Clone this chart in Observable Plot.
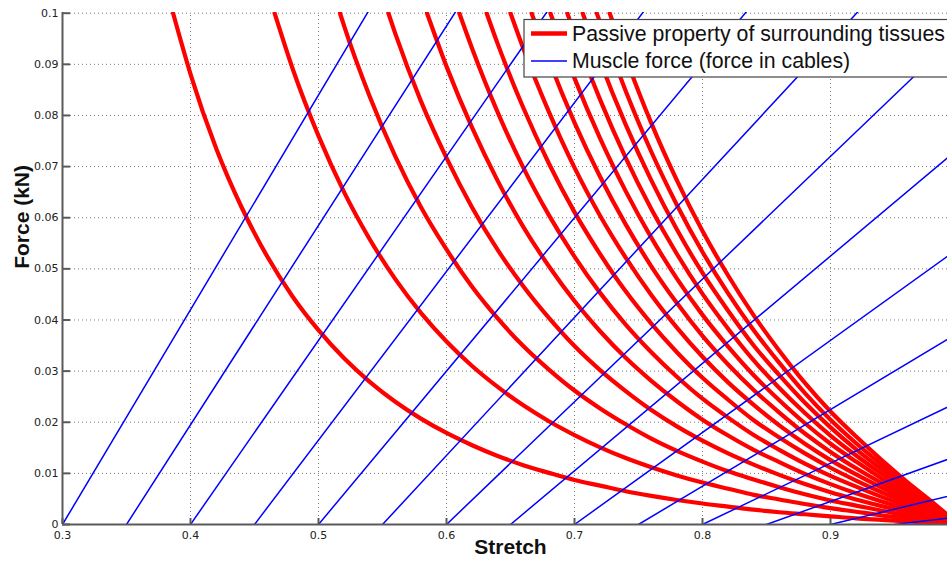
<!DOCTYPE html>
<html>
<head>
<meta charset="utf-8">
<script src="https://cdn.jsdelivr.net/npm/d3@7"></script>
<script src="https://cdn.jsdelivr.net/npm/@observablehq/plot@0.6"></script>
<style>
  html, body { margin: 0; padding: 0; background: #fff; }
  #chart { width: 947px; height: 564px; overflow: hidden; }
</style>
</head>
<body>
<div id="chart"></div>
<script>
// ---- tick values and labels ----
const stretchTicks = [0.3, 0.4, 0.5, 0.6, 0.7, 0.8, 0.9];
const stretchTickLabels = ["0.3", "0.4", "0.5", "0.6", "0.7", "0.8", "0.9"];
const forceTicks = [0, 0.01, 0.02, 0.03, 0.04, 0.05, 0.06, 0.07, 0.08, 0.09, 0.1];
const forceTickLabels = ["0", "0.01", "0.02", "0.03", "0.04", "0.05", "0.06", "0.07", "0.08", "0.09", "0.1"];

// ---- muscle force lines (blue): start stretch at zero force, force reached at stretch 1.0 ----
const muscleStartStretch = [0.30, 0.35, 0.40, 0.45, 0.50, 0.55, 0.60, 0.65, 0.70, 0.75, 0.80, 0.85, 0.90, 0.95];
const muscleForceAtFullStretch = [0.294, 0.2535, 0.216, 0.1815, 0.150, 0.1215, 0.096, 0.0735, 0.054, 0.0375, 0.024, 0.0135, 0.006, 0.0015];

// ---- passive property curves (red) ----
// stretch where each curve leaves the top of the plot (force 0.1)
const passiveTopStretch = [0.3864, 0.4657, 0.5168, 0.5546, 0.5848, 0.6100, 0.6314, 0.6500, 0.6665, 0.6812, 0.6944, 0.7064, 0.7174, 0.7275];
// stretch grid; each curve lists its forces for the LAST n grid stretches
const stretchGrid = [0.40, 0.42, 0.44, 0.46, 0.48, 0.50, 0.52, 0.54, 0.56, 0.58, 0.60, 0.62, 0.64, 0.66, 0.68, 0.70,
  0.72, 0.74, 0.76, 0.78, 0.80, 0.82, 0.84, 0.86, 0.88, 0.90, 0.92, 0.94, 0.96, 0.98, 1.00];
const passive01 = [0.0881, 0.0736, 0.0620, 0.0524, 0.0445, 0.0380, 0.0325, 0.0279, 0.0240, 0.0207, 0.0179, 0.0155, 0.0134, 0.0116, 0.0101, 0.0087, 0.0076, 0.0065, 0.0056, 0.0048, 0.0041, 0.0035, 0.0029, 0.0024, 0.0020, 0.0016, 0.0012, 0.0009, 0.0006, 0.0003, 0];
const passive02 = [0.0890, 0.0760, 0.0650, 0.0558, 0.0480, 0.0414, 0.0358, 0.0310, 0.0269, 0.0233, 0.0202, 0.0175, 0.0151, 0.0130, 0.0112, 0.0096, 0.0082, 0.0070, 0.0058, 0.0049, 0.0040, 0.0032, 0.0025, 0.0018, 0.0012, 0.0006, 0];
const passive03 = [0.0975, 0.0837, 0.0720, 0.0621, 0.0538, 0.0465, 0.0403, 0.0349, 0.0303, 0.0262, 0.0227, 0.0196, 0.0168, 0.0144, 0.0123, 0.0104, 0.0088, 0.0073, 0.0059, 0.0047, 0.0037, 0.0027, 0.0018, 0.0009, 0];
const passive04 = [0.0960, 0.0828, 0.0717, 0.0620, 0.0537, 0.0466, 0.0404, 0.0349, 0.0302, 0.0261, 0.0224, 0.0192, 0.0164, 0.0139, 0.0117, 0.0097, 0.0079, 0.0063, 0.0049, 0.0036, 0.0024, 0.0012, 0];
const passive05 = [0.0896, 0.0776, 0.0672, 0.0582, 0.0505, 0.0437, 0.0378, 0.0326, 0.0281, 0.0241, 0.0205, 0.0174, 0.0146, 0.0122, 0.0099, 0.0079, 0.0061, 0.0045, 0.0030, 0.0016, 0];
const passive06 = [0.0931, 0.0806, 0.0698, 0.0605, 0.0524, 0.0453, 0.0391, 0.0337, 0.0289, 0.0246, 0.0209, 0.0175, 0.0146, 0.0119, 0.0095, 0.0074, 0.0054, 0.0036, 0.0019, 0];
const passive07 = [0.0940, 0.0815, 0.0706, 0.0611, 0.0529, 0.0456, 0.0393, 0.0337, 0.0287, 0.0244, 0.0204, 0.0170, 0.0139, 0.0111, 0.0086, 0.0063, 0.0042, 0.0022, 0];
const passive08 = [0.0931, 0.0807, 0.0698, 0.0604, 0.0522, 0.0449, 0.0385, 0.0328, 0.0278, 0.0234, 0.0194, 0.0158, 0.0126, 0.0098, 0.0072, 0.0048, 0.0025, 0];
const passive09 = [0.0908, 0.0786, 0.0680, 0.0587, 0.0505, 0.0433, 0.0369, 0.0313, 0.0263, 0.0219, 0.0178, 0.0142, 0.0110, 0.0081, 0.0054, 0.0028, 0];
const passive10 = [0.0873, 0.0755, 0.0652, 0.0561, 0.0481, 0.0410, 0.0348, 0.0292, 0.0243, 0.0198, 0.0158, 0.0123, 0.0090, 0.0060, 0.0031, 0];
const passive11 = [0.0960, 0.0831, 0.0717, 0.0617, 0.0529, 0.0451, 0.0383, 0.0321, 0.0267, 0.0218, 0.0174, 0.0135, 0.0099, 0.0066, 0.0034, 0];
const passive12 = [0.0906, 0.0782, 0.0673, 0.0577, 0.0492, 0.0418, 0.0350, 0.0292, 0.0238, 0.0190, 0.0147, 0.0108, 0.0072, 0.0037, 0];
const passive13 = [0.0982, 0.0848, 0.0729, 0.0625, 0.0533, 0.0452, 0.0380, 0.0316, 0.0257, 0.0205, 0.0159, 0.0117, 0.0077, 0.0040, 0];
const passive14 = [0.0913, 0.0785, 0.0673, 0.0574, 0.0487, 0.0409, 0.0340, 0.0277, 0.0221, 0.0172, 0.0126, 0.0083, 0.0043, 0];
const passiveCurves = [passive01, passive02, passive03, passive04, passive05, passive06, passive07,
  passive08, passive09, passive10, passive11, passive12, passive13, passive14];

const legendLabels = ["Passive property of surrounding tissues", "Muscle force (force in cables)"];
const forceTop = 0.1;

// ---- build tables ----
const passiveRows = [];
passiveCurves.forEach((vals, k) => {
  passiveRows.push({curve: k, stretch: passiveTopStretch[k], force: forceTop});
  const offset = stretchGrid.length - vals.length;
  vals.forEach((f, j) => passiveRows.push({curve: k, stretch: stretchGrid[offset + j], force: f}));
});
const muscleRows = [];
muscleStartStretch.forEach((s, k) => {
  muscleRows.push({line: k, stretch: s, force: 0});
  muscleRows.push({line: k, stretch: 1.0, force: muscleForceAtFullStretch[k]});
});

const W = 947, H = 564;
const chart = Plot.plot({
  width: W,
  height: H,
  marginLeft: 62,
  marginRight: 0,
  marginTop: 12,
  marginBottom: 40,
  style: {fontFamily: "'DejaVu Sans', sans-serif", fontSize: "11px", background: "#fff", color: "#222"},
  x: {domain: [0.3, 1.0], range: [62, 958]},
  y: {domain: [0, 0.1], range: [524, 12.7]},
  marks: [
    // dotted grid
    Plot.ruleX(stretchTicks, {x: d => d, y1: 0, y2: forceTop, stroke: "#7a7a7a", strokeWidth: 1, strokeDasharray: "1,3"}),
    Plot.ruleY(forceTicks, {y: d => d, stroke: "#7a7a7a", strokeWidth: 1, strokeDasharray: "1,3"}),
    // passive curves (red)
    Plot.line(passiveRows, {x: "stretch", y: "force", z: "curve", stroke: "#ff0000", strokeWidth: 4.2,
      curve: "monotone-x", clip: true}),
    // muscle force lines (blue)
    Plot.line(muscleRows, {x: "stretch", y: "force", z: "line", stroke: "#0000ff", strokeWidth: 1.5, clip: true}),
    // axis lines
    Plot.ruleX([0.3], {stroke: "#5a5a5a", strokeWidth: 2}),
    Plot.ruleY([0], {stroke: "#5a5a5a", strokeWidth: 2}),
    // inward tick marks
    Plot.tickY(forceTicks, {y: d => d, stroke: "#5a5a5a", strokeWidth: 2, insetRight: (W - 62) - 8}),
    Plot.tickX(stretchTicks, {x: d => d, stroke: "#5a5a5a", strokeWidth: 2, insetTop: (524 - 12) - 6}),
    // tick labels
    Plot.axisY(forceTicks, {anchor: "left", tickSize: 0, tickPadding: 4, fontSize: 11, fill: "#222",
      tickFormat: d => forceTickLabels[forceTicks.indexOf(d)], label: null}),
    Plot.axisX(stretchTicks, {anchor: "bottom", tickSize: 0, tickPadding: 7, fontSize: 11, fill: "#222",
      tickFormat: d => stretchTickLabels[stretchTicks.indexOf(d)], label: null}),
    // axis titles
    Plot.text(["Stretch"], {x: (0.3 + 1.0) / 2, frameAnchor: "bottom", dy: 29, text: d => d,
      fontFamily: "'Liberation Sans', Arial, sans-serif", fontWeight: "bold", fontSize: 21, fill: "#111"}),
    Plot.text(["Force (kN)"], {y: forceTop / 2, frameAnchor: "left", dx: -40, rotate: -90, text: d => d,
      fontFamily: "'Liberation Sans', Arial, sans-serif", fontWeight: "bold", fontSize: 21, fill: "#111"})
  ]
});

document.getElementById("chart").appendChild(chart);

// ---- legend (drawn on top of the plot area) ----
const svg = d3.select(chart);
const lg = svg.append("g").attr("class", "legend").attr("text-anchor", "start");
lg.append("rect").attr("x", 524).attr("y", 19.5).attr("width", 440).attr("height", 57.5)
  .attr("fill", "#fff").attr("stroke", "#444").attr("stroke-width", 1.2);
const legendColors = ["#ff0000", "#0000ff"];
const legendWidths = [4.5, 1.5];
legendLabels.forEach((lab, i) => {
  const cy = 33.5 + i * 27.5;
  lg.append("line").attr("x1", 531).attr("x2", 567).attr("y1", cy).attr("y2", cy)
    .style("stroke", legendColors[i]).style("stroke-width", legendWidths[i]).style("fill", "none");
  lg.append("text").attr("x", 572).attr("y", cy + 7).attr("text-anchor", "start")
    .style("font-family", "'Liberation Sans', Arial, sans-serif").style("font-size", "21.3px")
    .style("fill", "#111").text(lab);
});
</script>
</body>
</html>
